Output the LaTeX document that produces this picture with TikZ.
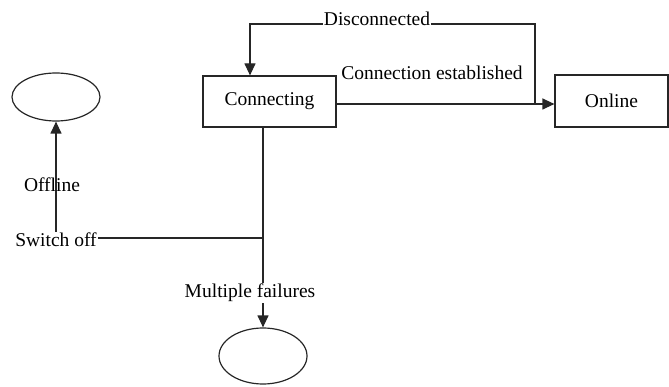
\documentclass[tikz,border=0pt]{standalone}
\usepackage{fontspec}
\setmainfont{Liberation Serif}
\usetikzlibrary{arrows.meta,shapes.geometric}
\begin{document}
\begin{tikzpicture}[x=1pt,y=-1pt,
  every node/.style={font=\fontsize{19.5}{22}\selectfont, text=black},
  box/.style={draw=black!85, line width=1.2pt, rectangle, inner sep=0pt},
  oval/.style={draw=black!85, line width=1.2pt, ellipse, inner sep=0pt},
  lbl/.style={inner sep=1pt},
  ln/.style={draw=black!85, line width=1.2pt},
  arr/.style={ln, -{Triangle[length=12pt,width=11pt]}}]
\useasboundingbox (0,0) rectangle (669,387);
\node[box, minimum width=133pt, minimum height=51pt] (connecting) at (269.5,101.5) {Connecting};
\node[box, minimum width=113pt, minimum height=52pt] (online) at (611.5,101) {Online};
\node[oval, minimum width=88pt, minimum height=48pt] (offline) at (56,97) {};
\node[oval, minimum width=88pt, minimum height=56pt] (fail) at (263,356) {};
\coordinate (j) at (535,104);
\coordinate (dtr) at (535,24);
\coordinate (dtl) at (250,24);
\coordinate (v) at (263,238);
\node[lbl] (est) at (432,73) {Connection established};
\node[lbl] (swoff) at (56,240) {Switch off};
\node[lbl] (multi) at (250,293) {Multiple failures};
\draw[arr] (connecting.east |- j) -- (online.west |- j);
\draw[arr] (j) -- (dtr) -- (dtl) -- (connecting.north -| dtl);
\node[lbl, fill=white] (disc) at (377,19) {Disconnected};
\draw[ln] (connecting.south -| v) -- (multi.north -| v);
\draw[ln] (swoff.east |- v) -- (v);
\draw[arr] (multi.south -| fail) -- (fail.north);
\draw[arr] (swoff.north -| offline) -- (offline.south);
\node[lbl] (offl) at (52,185) {Offline};
\end{tikzpicture}
\end{document}
